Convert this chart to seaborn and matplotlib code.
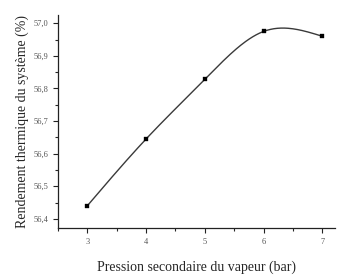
import matplotlib
matplotlib.use('Agg')
import matplotlib.pyplot as plt
import numpy as np
import pandas as pd
import seaborn as sns
from matplotlib.ticker import FuncFormatter, MultipleLocator

# ---- Données ----
pression = [3, 4, 5, 6, 7]
rendement = [56.44, 56.645, 56.828, 56.975, 56.96]

df = pd.DataFrame({'Pression': pression, 'Rendement': rendement})

# ---- Spline cubique naturelle (tracé lissé comme Origin) ----
def spline_naturelle(x, y, n=200):
    x = np.asarray(x, float)
    y = np.asarray(y, float)
    k = len(x)
    h = np.diff(x)
    A = np.zeros((k, k))
    b = np.zeros(k)
    A[0, 0] = 1
    A[-1, -1] = 1
    for i in range(1, k - 1):
        A[i, i - 1] = h[i - 1]
        A[i, i] = 2 * (h[i - 1] + h[i])
        A[i, i + 1] = h[i]
        b[i] = 3 * ((y[i + 1] - y[i]) / h[i] - (y[i] - y[i - 1]) / h[i - 1])
    c = np.linalg.solve(A, b)
    xs = np.linspace(x[0], x[-1], n)
    ys = np.empty_like(xs)
    for j, xv in enumerate(xs):
        i = min(np.searchsorted(x, xv, side='right') - 1, k - 2)
        d = xv - x[i]
        bi = (y[i + 1] - y[i]) / h[i] - h[i] * (2 * c[i] + c[i + 1]) / 3
        di = (c[i + 1] - c[i]) / (3 * h[i])
        ys[j] = y[i] + bi * d + c[i] * d ** 2 + di * d ** 3
    return xs, ys

xs, ys = spline_naturelle(pression, rendement)
df_lisse = pd.DataFrame({'Pression': xs, 'Rendement': ys})

# ---- Figure ----
sns.set_style('ticks')
plt.rcParams['font.family'] = ['Liberation Serif', 'DejaVu Serif']

fig = plt.figure(figsize=(3.37, 2.80), dpi=100)
ax = fig.add_axes([0.172, 0.186, 0.823, 0.76])

sns.lineplot(data=df_lisse, x='Pression', y='Rendement', ax=ax, color='#3a3a3a', linewidth=1.0)
sns.scatterplot(data=df, x='Pression', y='Rendement', ax=ax, marker='s', s=9,
                color='black', edgecolor='black', zorder=3)

ax.set_xlim(2.5, 7.22)
ax.set_ylim(56.372, 57.025)
ax.xaxis.set_major_locator(MultipleLocator(1))
ax.xaxis.set_minor_locator(MultipleLocator(0.5))
ax.yaxis.set_major_locator(MultipleLocator(0.1))
ax.yaxis.set_minor_locator(MultipleLocator(0.05))
ax.yaxis.set_major_formatter(FuncFormatter(lambda v, p: f'{v:.1f}'.replace('.', ',')))
ax.tick_params(which='major', length=3.5, width=0.8, labelsize=6, colors='#222222', labelcolor='#555555')
ax.tick_params(which='minor', length=2, width=0.8)
sns.despine(ax=ax)
for s in ['left', 'bottom']:
    ax.spines[s].set_linewidth(0.9)
    ax.spines[s].set_color('#222222')

ax.set_xlabel('Pression secondaire du vapeur (bar)', fontsize=10, labelpad=11)
ax.set_ylabel('Rendement thermique du système (%)', fontsize=10, labelpad=3)

fig.savefig('out.png', dpi=100)
